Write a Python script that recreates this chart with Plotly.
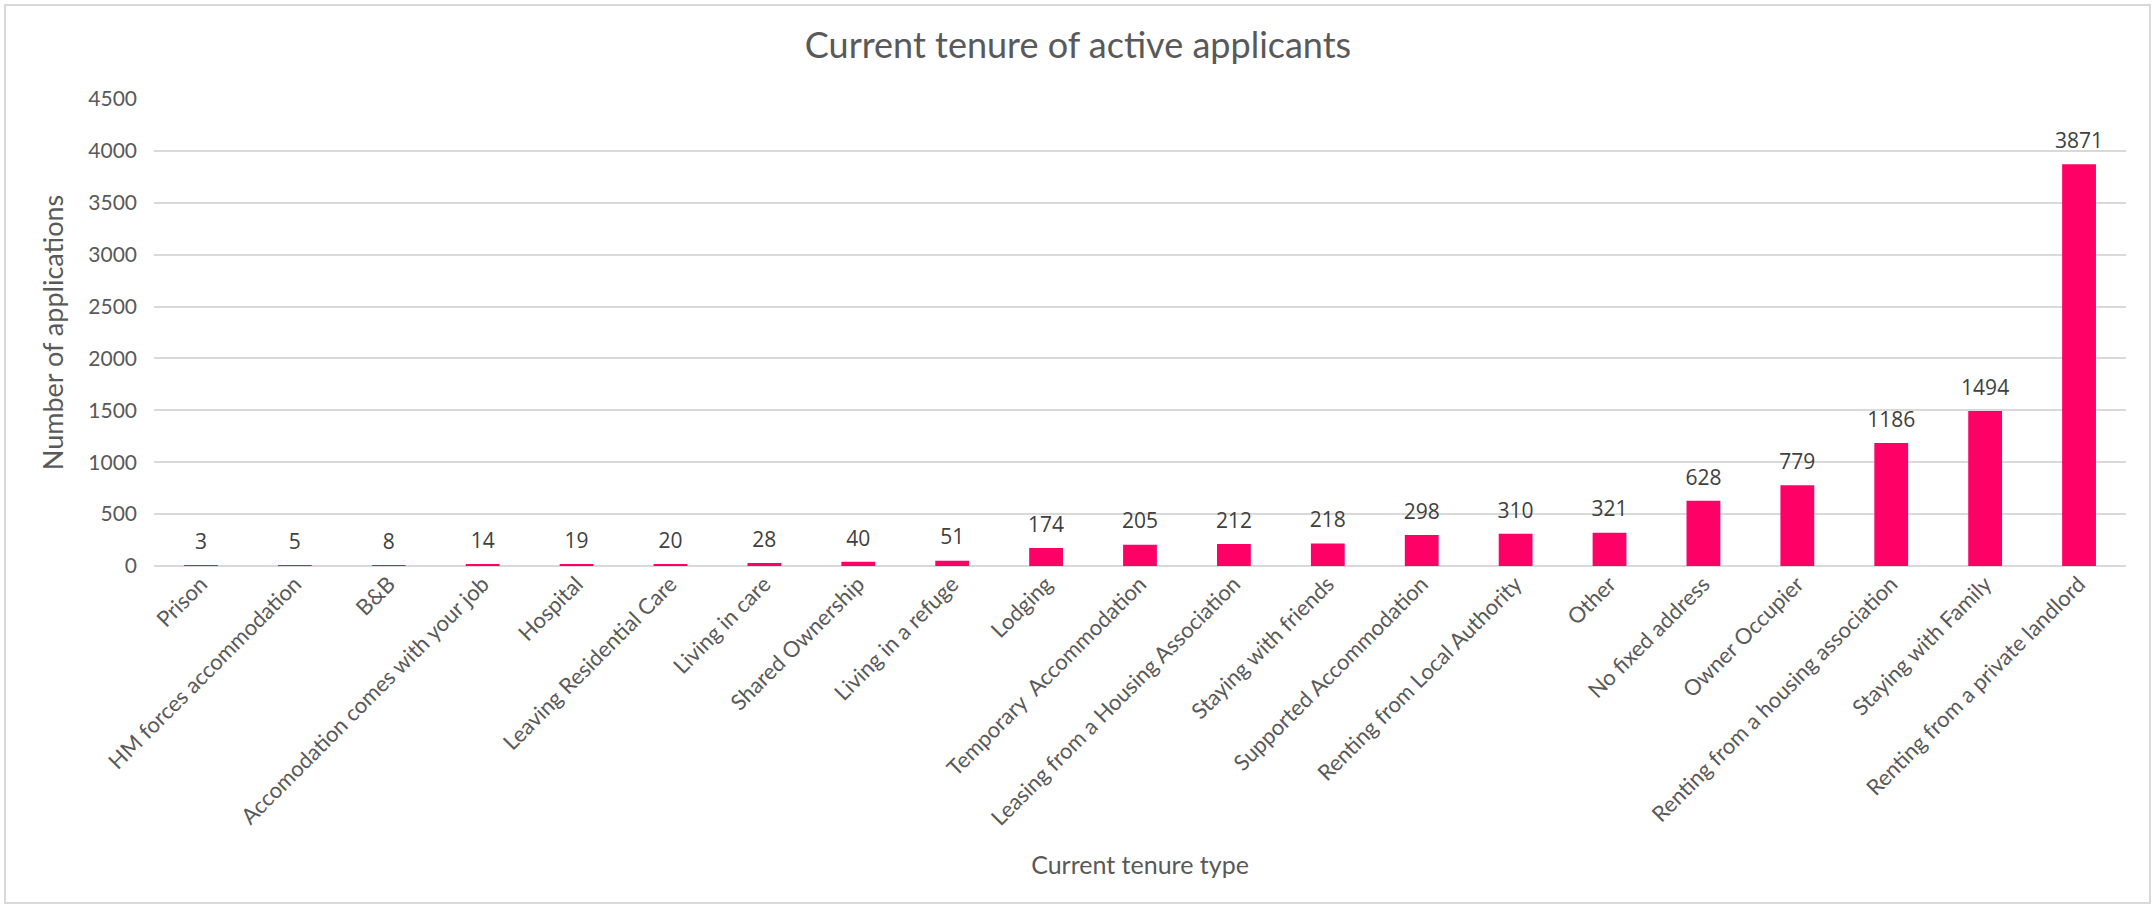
import plotly.graph_objects as go

categories = ["Prison", "HM forces accommodation", "B&B", "Accomodation comes with your job",
              "Hospital", "Leaving Residential Care", "Living in care", "Shared Ownership",
              "Living in a refuge", "Lodging", "Temporary  Accommodation",
              "Leasing from a Housing Association", "Staying with friends",
              "Supported Accommodation", "Renting from Local Authority", "Other",
              "No fixed address", "Owner Occupier", "Renting from a housing association",
              "Staying with Family", "Renting from a private landlord"]
values = [3, 5, 8, 14, 19, 20, 28, 40, 51, 174, 205, 212, 218, 298, 310, 321, 628, 779,
          1186, 1494, 3871]

W, H = 2156, 908
L, R, T, B = 154, 30, 99, 342
pw, ph = W - L - R, H - T - B

def px(p):
    return (p - L) / pw

def py(q):
    return (H - B - q) / ph

GREY = "#595959"

fig = go.Figure()
fig.add_trace(go.Bar(
    x=categories, y=values,
    marker=dict(color="#FF0066", line=dict(width=0)),
    hovertemplate="%{x}: %{y}<extra></extra>",
))
# data labels
fig.add_trace(go.Scatter(
    x=categories, y=values, mode="markers+text",
    marker=dict(size=16, opacity=0),
    text=[str(v) for v in values], textposition="top center",
    textfont=dict(family="Open Sans", size=21, color="#404040"),
    cliponaxis=False, hoverinfo="skip",
))

fig.update_layout(
    width=W, height=H,
    margin=dict(l=L, r=R, t=T, b=B),
    paper_bgcolor="white", plot_bgcolor="white",
    bargap=0.64,
    showlegend=False,
    title=dict(text="Current tenure of active applicants", x=0.5, xanchor="center",
               y=1 - 45 / H, yanchor="middle",
               font=dict(family="Lato", size=36, color=GREY)),
    xaxis=dict(range=[-0.5, len(categories) - 0.5], tickangle=-45,
               tickfont=dict(family="Lato", size=22, color=GREY),
               showgrid=False, showline=False, ticks="", automargin=False,
               title=dict(text="Current tenure type", standoff=26,
                          font=dict(family="Lato", size=25, color=GREY))),
    yaxis=dict(range=[0, 4500.1], dtick=500, tickfont=dict(family="Lato", size=21, color=GREY),
               gridcolor="#D9D9D9", gridwidth=2, zeroline=True, zerolinecolor="#D9D9D9",
               zerolinewidth=2, showline=False, ticks="", automargin=False,
               ticklabelstandoff=16,
               title=dict(text="Number of applications", standoff=16,
                          font=dict(family="Lato", size=27, color=GREY))),
    shapes=[dict(type="rect", xref="paper", yref="paper",
                 x0=px(5), x1=px(2150), y0=py(903), y1=py(5),
                 line=dict(color="#D9D9D9", width=2), fillcolor="rgba(0,0,0,0)", layer="below")],
)

fig.write_html("out.html", config={"displayModeBar": False},
               post_script="document.body.style.margin='0';")
